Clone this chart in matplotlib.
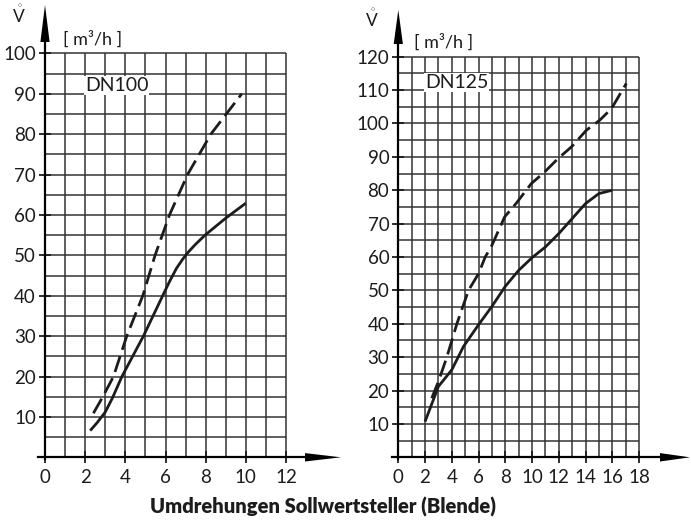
import matplotlib
matplotlib.use('Agg')
import matplotlib.pyplot as plt

W, H = 691, 521
plt.rcParams['font.family'] = ['Lato', 'DejaVu Sans']
plt.rcParams['mathtext.fontset'] = 'custom'
plt.rcParams['mathtext.rm'] = 'Lato'
plt.rcParams['mathtext.it'] = 'Lato'

# ---- data ----
dn100_solid_x = [2.25, 2.6, 3.0, 3.35, 3.83, 4.9, 5.86, 6.2, 6.55, 6.85, 7.1, 7.47, 7.97, 9.0, 10.0]
dn100_solid_y = [6.6, 8.6, 11.2, 14.6, 20.0, 30.0, 40.0, 43.5, 46.8, 49.0, 50.6, 52.6, 55.0, 59.2, 62.9]
dn100_dash_x = [2.41, 2.88, 3.41, 4.07, 4.87, 5.48, 6.2, 7.1, 8.26, 9.8]
dn100_dash_y = [10.9, 15.0, 20.0, 30.0, 40.0, 50.0, 60.0, 70.0, 80.0, 90.0]

dn125_solid_x = [2.0, 3.0, 4.0, 4.875, 6.0, 7.0, 8.0, 9.0, 10.0, 11.0, 12.0, 13.0, 14.0, 15.0, 16.0]
dn125_solid_y = [10.7, 21.2, 26.2, 33.2, 39.7, 45.2, 51.2, 56.0, 59.8, 63.0, 67.0, 71.5, 76.0, 79.0, 80.0]
dn125_dash_x = [2.5, 3.0, 3.63, 4.38, 5.25, 6.0, 6.5, 7.0, 7.95, 8.8, 9.95, 10.95, 11.95, 12.95, 14.07, 15.07, 15.95, 17.05]
dn125_dash_y = [17.7, 22.7, 30.0, 40.0, 50.0, 55.0, 60.0, 63.5, 72.0, 76.0, 82.0, 85.5, 89.5, 93.0, 98.0, 101.0, 104.5, 112.0]

left_xticks = [0, 2, 4, 6, 8, 10, 12]
left_yticks = [10, 20, 30, 40, 50, 60, 70, 80, 90, 100]
right_xticks = [0, 2, 4, 6, 8, 10, 12, 14, 16, 18]
right_yticks = [10, 20, 30, 40, 50, 60, 70, 80, 90, 100, 110, 120]

xlabel = 'Umdrehungen Sollwertsteller (Blende)'
unit_label = '[ m³/h ]'
flow_symbol = r'$\mathring{\mathrm{V}}$'

INK = '#1c1c1c'
GRID = '#333333'

fig = plt.figure(figsize=(W / 100, H / 100), dpi=100)


def px(x, y):
    return x / W, 1 - y / H


def make_chart(x0, y0, x1, y1, xmax, ymax, xticks, yticks,
               ytip_px, ybase_px, xstart_px, xbase_px, xtip_px):
    ax = fig.add_axes([x0 / W, 1 - y0 / H, (x1 - x0) / W, (y0 - y1) / H])
    ax.set_xlim(0, xmax)
    ax.set_ylim(0, ymax)
    ux = (x1 - x0) / xmax   # px per x unit
    uy = (y0 - y1) / ymax   # px per y unit
    for s in ax.spines.values():
        s.set_visible(False)
    ax.patch.set_alpha(0)
    # grid
    ax.vlines(range(1, xmax + 1), 0, ymax, colors=GRID, lw=1.1, clip_on=False, zorder=1)
    ax.hlines(range(5, ymax + 1, 5), 0, xmax, colors=GRID, lw=1.1, clip_on=False, zorder=1)
    # axes lines
    ytip = ymax + (y1 - ytip_px) / uy
    ybase = ymax + (y1 - ybase_px) / uy
    ax.plot([0, 0], [-1.5 / uy, ybase], color='black', lw=1.6, clip_on=False, zorder=3)
    hw = 4.6 / ux
    ax.fill([-hw, hw, 0], [ybase, ybase, ytip], color='black', clip_on=False, zorder=3, lw=0)
    xs = (xstart_px - x0) / ux
    xb = (xbase_px - x0) / ux
    xt = (xtip_px - x0) / ux
    ax.plot([xs, xb], [0, 0], color='black', lw=1.6, clip_on=False, zorder=3)
    hh = 4.2 / uy
    ax.fill([xb, xb, xt], [-hh, hh, 0], color='black', clip_on=False, zorder=3, lw=0)
    # ticks
    ax.set_xticks(xticks)
    ax.set_yticks(yticks)
    ax.tick_params(axis='x', direction='inout', length=8, width=1.3, pad=4.5,
                   labelsize=13.5, colors=INK)
    ax.tick_params(axis='y', direction='inout', length=9, width=1.3, pad=2,
                   labelsize=13.5, colors=INK)
    return ax


ax1 = make_chart(45, 457.3, 286, 53.3, 12, 100, left_xticks, left_yticks,
                 ytip_px=5, ybase_px=42, xstart_px=38, xbase_px=305, xtip_px=341)
ax2 = make_chart(398.3, 457.3, 639, 56.7, 18, 120, right_xticks, right_yticks,
                 ytip_px=10, ybase_px=44, xstart_px=392, xbase_px=660, xtip_px=690)

dash = (0, (6.0, 2.4))
for ax, sx, sy, dx, dy in [(ax1, dn100_solid_x, dn100_solid_y, dn100_dash_x, dn100_dash_y),
                           (ax2, dn125_solid_x, dn125_solid_y, dn125_dash_x, dn125_dash_y)]:
    ax.plot(sx, sy, color=INK, lw=2.0, solid_capstyle='butt', solid_joinstyle='round', zorder=4)
    ax.plot(dx, dy, color=INK, lw=2.0, linestyle=dash, dash_capstyle='butt', zorder=4)

ax1.text(2.0, 92.0, 'DN100', fontsize=14, color=INK, ha='left', va='center', zorder=5,
         bbox=dict(facecolor='white', edgecolor='none', pad=0.5))
ax2.text(2.0, 112.2, 'DN125', fontsize=14, color=INK, ha='left', va='center', zorder=5,
         bbox=dict(facecolor='white', edgecolor='none', pad=0.5))

# y-axis symbols and units
fig.text(*px(19, 15), flow_symbol, fontsize=12.5, color=INK, ha='center', va='center')
fig.text(*px(371.5, 19), flow_symbol, fontsize=12.5, color=INK, ha='center', va='center')
fig.text(*px(92.5, 39), unit_label, fontsize=13, color=INK, ha='center', va='center')
fig.text(*px(444, 42), unit_label, fontsize=13, color=INK, ha='center', va='center')

fig.text(*px(323, 507), xlabel, fontsize=14.5, fontweight='heavy', color=INK,
         ha='center', va='center')

fig.savefig('out.png', dpi=100, facecolor='white')
